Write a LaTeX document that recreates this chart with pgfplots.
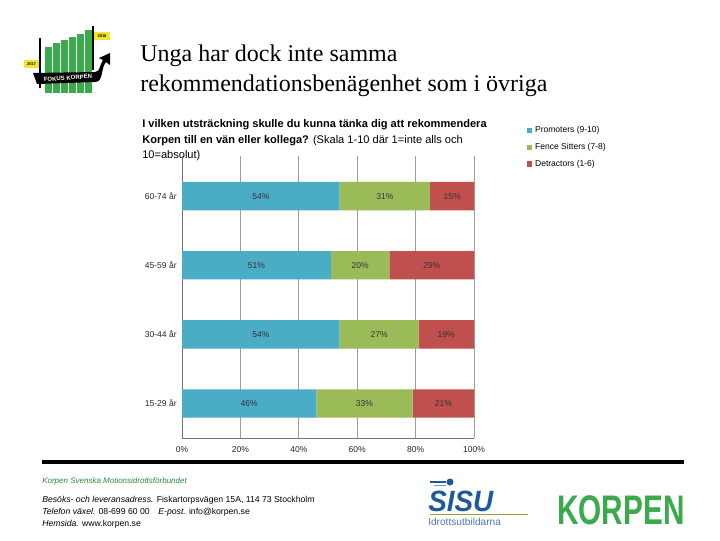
\documentclass[border=0pt]{standalone}
\usepackage{pgfplots}
\pgfplotsset{compat=1.18}
\usepackage{fontspec}
\setmainfont{Liberation Sans}
\newfontfamily\seriffont{Liberation Serif}
\definecolor{cblue}{HTML}{4BACC6}
\definecolor{cgreen}{HTML}{9BBB59}
\definecolor{cred}{HTML}{C0504D}
\definecolor{kgreen}{HTML}{3AAA4C}
\definecolor{sisublue}{HTML}{1C5A9C}
\definecolor{logoyellow}{HTML}{F2E52E}
\pgfplotsset{mylegend/.style={legend image code/.code={\fill[##1,draw=none] (0pt,-2.1pt) rectangle (4.2pt,2.1pt);}}}
\begin{document}
\begin{tikzpicture}
\begin{scope}[x=0.75pt,y=-0.75pt]
\path[fill=white] (0,0) rectangle (720,540);
% slide title
\node[anchor=base west, inner sep=0, font=\seriffont\fontsize{18}{22}\selectfont] at (140,61) {Unga har dock inte samma};
\node[anchor=base west, inner sep=0, font=\seriffont\fontsize{18}{22}\selectfont] at (140,91) {rekommendationsbenägenhet som i övriga};
% top-left logo (approximation)
\foreach \xx/\tp in {45/47,53/43,61/40,69/37,77/34,85/30}{
  \fill[kgreen] (\xx,\tp) rectangle ++(6.5,93-\tp);
}
\draw[black, line width=0.9pt] (40,38) -- (40,88);
\draw[black, line width=0.9pt] (93,26) -- (93,70);
\fill[logoyellow] (24,60) rectangle (39,68);
\node[font=\fontsize{3}{3}\selectfont\bfseries, inner sep=0] at (31.5,64) {2017};
\fill[logoyellow] (94,32) rectangle (110,40);
\node[font=\fontsize{3}{3}\selectfont\bfseries, inner sep=0] at (102,36) {2018};
\fill[black] (33,73) -- (95,72) to[out=0,in=230] (103,60) -- (99,58) -- (110,53) -- (110,65) -- (106,62) to[out=230,in=0] (95,82) -- (37,84) -- cycle;
\node[font=\fontsize{4.5}{5}\selectfont\bfseries, text=white, inner sep=0, rotate=4] at (68,78) {FOKUS KORPEN};
% chart title
\node[anchor=base west, inner sep=0, font=\fontsize{8.3}{12}\selectfont\bfseries] at (142,127) {I vilken utsträckning skulle du kunna tänka dig att rekommendera};
\node[anchor=base west, inner sep=0, font=\fontsize{8.3}{12}\selectfont] at (142,143) {\textbf{Korpen till en vän eller kollega?} (Skala 1-10 där 1=inte alls och};
\node[anchor=base west, inner sep=0, font=\fontsize{8.3}{12}\selectfont] at (142,158) {10=absolut)};
% footer
\draw[black, line width=2.3pt] (42,462) -- (684,462);
\node[anchor=base west, inner sep=0, font=\fontsize{6}{6}\selectfont\itshape, text=kgreen!80!black] at (42,483) {Korpen Svenska Motionsidrottsförbundet};
\node[anchor=base west, inner sep=0, font=\fontsize{6.5}{7}\selectfont] at (42,502) {\textit{Besöks- och leveransadress.} Fiskartorpsvägen 15A, 114 73 Stockholm};
\node[anchor=base west, inner sep=0, font=\fontsize{6.5}{7}\selectfont] at (42,514) {\textit{Telefon växel.} 08-699 60 00\quad \textit{E-post.} info@korpen.se};
\node[anchor=base west, inner sep=0, font=\fontsize{6.5}{7}\selectfont] at (42,526) {\textit{Hemsida.} www.korpen.se};
% SISU logo
\draw[sisublue, line width=0.8pt] (430,482) -- (446,482);
\draw[sisublue!60, line width=0.6pt] (434,485) -- (446,485);
\fill[sisublue] (450,482) circle (3.5);
\node[anchor=base west, inner sep=0, font=\fontsize{22}{22}\selectfont\bfseries\itshape, text=sisublue, xscale=0.95] at (428,511) {SISU};
\draw[black!30!logoyellow, line width=0.5pt] (430,514) -- (528,514);
\node[anchor=base west, inner sep=0, font=\fontsize{7.6}{8}\selectfont, text=sisublue!80] at (428,525) {Idrottsutbildarna};
% KORPEN logo
\node[anchor=base west, inner sep=0, font=\fontsize{31}{31}\selectfont\bfseries, text=kgreen, xscale=0.72] at (557,524) {KORPEN};
\end{scope}
\begin{axis}[
  at={(136.5pt,-328.5pt)}, anchor=south west,
  scale only axis, width=219pt, height=211.5pt,
  xbar stacked, bar width=0.41,
  xmin=0, xmax=100, ymin=-0.5, ymax=3.58,
  axis x line*=bottom, axis y line*=left,
  axis line style={-, draw=black!55, line width=0.6pt},
  /pgf/number format/assume math mode=true,
  xtick={0,20,40,60,80,100},
  xticklabel={\pgfmathprintnumber{\tick}\%},
  ytick={0,1,2,3},
  yticklabels={15-29 år,30-44 år,45-59 år,60-74 år},
  major tick length=0pt,
  xmajorgrids, grid style={draw=black!38, line width=0.5pt},
  tick label style={font=\fontsize{6.4}{7}\selectfont, text=black!85},
  xticklabel style={yshift=-2.5pt},
  yticklabel style={xshift=-0.5pt},
  point meta=explicit,
  nodes near coords={\pgfmathprintnumber{\pgfplotspointmeta}\%},
  every node near coord/.append style={anchor=center, font=\fontsize{6.4}{7}\selectfont, text=black!80},
  legend style={at={(1.18,1.116)}, anchor=north west, draw=none, fill=none,
    font=\fontsize{6.4}{7}\selectfont, row sep=2.6pt, cells={anchor=west},
    inner sep=0pt},
  legend cell align=left,
]
\addplot[fill=cblue, draw=none, mylegend] coordinates {(46,0) [46] (54,1) [54] (51,2) [51] (54,3) [54]};
\addplot[fill=cgreen, draw=none, mylegend] coordinates {(33,0) [33] (27,1) [27] (20,2) [20] (31,3) [31]};
\addplot[fill=cred, draw=none, mylegend] coordinates {(21,0) [21] (19,1) [19] (29,2) [29] (15,3) [15]};
\legend{Promoters (9-10),Fence Sitters (7-8),Detractors (1-6)}
\end{axis}
\end{tikzpicture}
\end{document}
